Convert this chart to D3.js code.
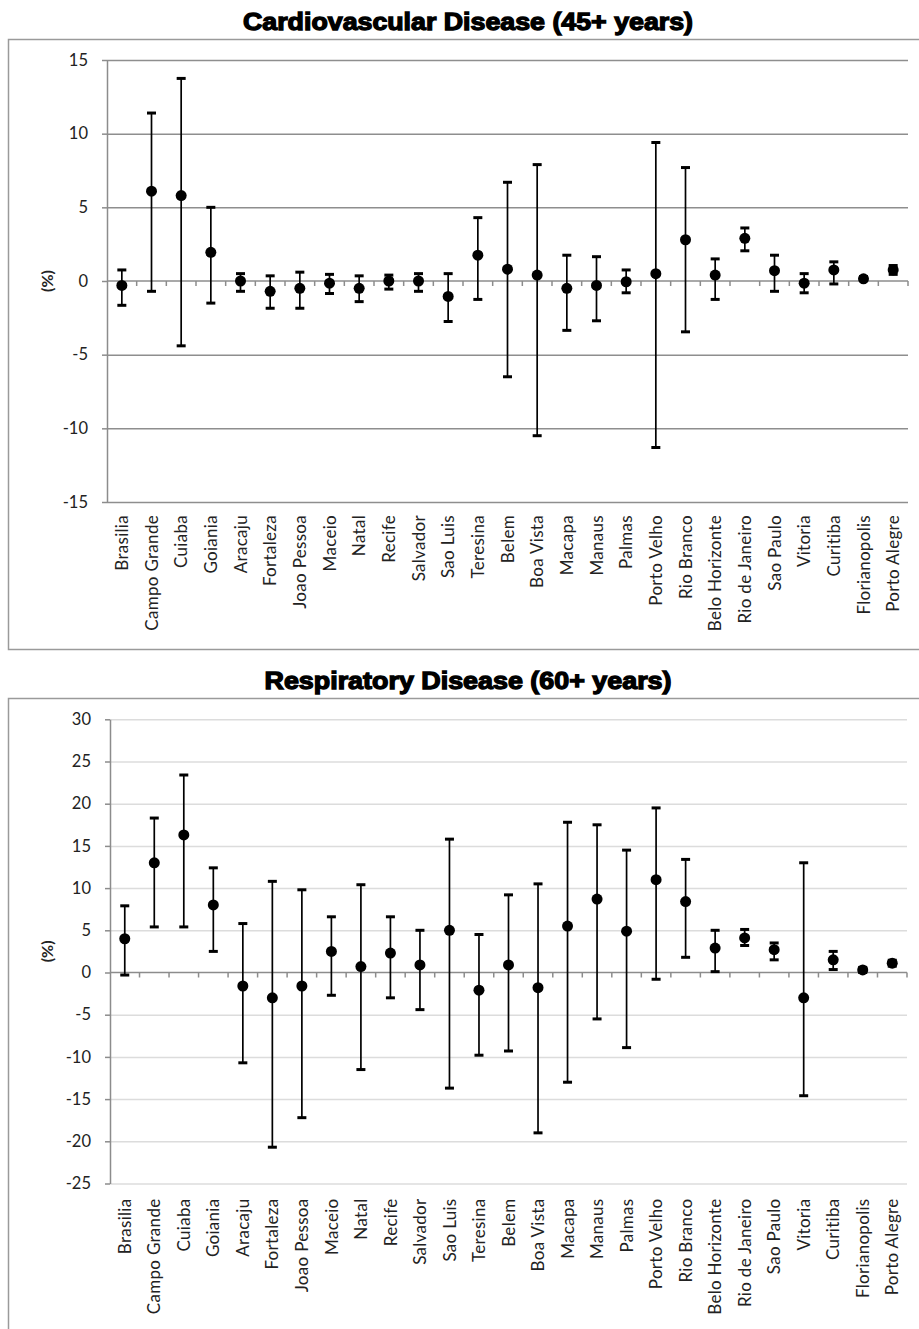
<!DOCTYPE html>
<html>
<head>
<meta charset="utf-8">
<script src="https://cdn.jsdelivr.net/npm/d3@7"></script>
<style>
  html, body { margin: 0; padding: 0; background: #fff; }
  svg { display: block; }
</style>
</head>
<body>
<div id="chart"></div>
<script>
const cities = ["Brasilia", "Campo Grande", "Cuiaba", "Goiania", "Aracaju", "Fortaleza", "Joao Pessoa",
    "Maceio", "Natal", "Recife", "Salvador", "Sao Luis", "Teresina", "Belem", "Boa Vista", "Macapa",
    "Manaus", "Palmas", "Porto Velho", "Rio Branco", "Belo Horizonte", "Rio de Janeiro", "Sao Paulo",
    "Vitoria", "Curitiba", "Florianopolis", "Porto Alegre"];

// Cardiovascular disease (45+ years)
const cvdMean = [-0.3, 6.1, 5.8, 1.95, 0, -0.7, -0.5, -0.15, -0.5, 0, 0, -1.05, 1.75, 0.8, 0.4, -0.5,
    -0.3, -0.05, 0.5, 2.8, 0.4, 2.9, 0.7, -0.15, 0.75, 0.15, 0.75];
const cvdLow = [-1.65, -0.7, -4.4, -1.5, -0.7, -1.85, -1.85, -0.85, -1.4, -0.55, -0.7, -2.75, -1.25, -6.5,
    -10.5, -3.35, -2.7, -0.8, -11.3, -3.45, -1.25, 2.05, -0.7, -0.8, -0.2, 0.05, 0.45];
const cvdHigh = [0.75, 11.4, 13.75, 5.0, 0.5, 0.35, 0.6, 0.45, 0.35, 0.4, 0.5, 0.5, 4.3, 6.7, 7.9, 1.75,
    1.65, 0.75, 9.4, 7.7, 1.5, 3.6, 1.75, 0.5, 1.3, 0.3, 1.05];
const cvdTicks = [-15, -10, -5, 0, 5, 10, 15];

// Respiratory disease (60+ years)
const respMean = [4.0, 13.0, 16.3, 8.0, -1.6, -3.0, -1.6, 2.5, 0.7, 2.3, 0.9, 5.0, -2.1, 0.9, -1.8, 5.5,
    8.7, 4.9, 11.0, 8.4, 2.9, 4.1, 2.7, -3.0, 1.5, 0.3, 1.1];
const respLow = [-0.3, 5.4, 5.4, 2.5, -10.7, -20.7, -17.2, -2.7, -11.5, -3.0, -4.4, -13.7, -9.8, -9.3,
    -19.0, -13.0, -5.5, -8.9, -0.8, 1.8, 0.1, 3.2, 1.5, -14.6, 0.35, 0.0, 0.75];
const respHigh = [7.9, 18.3, 23.4, 12.4, 5.8, 10.8, 9.8, 6.6, 10.4, 6.6, 5.0, 15.8, 4.5, 9.2, 10.5, 17.8,
    17.5, 14.5, 19.5, 13.4, 5.0, 5.1, 3.5, 13.0, 2.5, 0.6, 1.45];
const respTicks = [-25, -20, -15, -10, -5, 0, 5, 10, 15, 20, 25, 30];

const width = 919;
const height = 1329;
const labelFont = "Lato, 'Open Sans', sans-serif";

const svg = d3.select("#chart").append("svg")
    .attr("width", width)
    .attr("height", height)
    .attr("viewBox", `0 0 ${width} ${height}`);

function createErrorChart(cfg) {
    const rows = cities.map((c, i) => ({ city: c, mean: cfg.mean[i], low: cfg.low[i], high: cfg.high[i] }));

    // outer frame
    svg.append("rect")
        .attr("x", 8.5)
        .attr("y", cfg.frameTop + 0.5)
        .attr("width", 930)
        .attr("height", cfg.frameBottom - cfg.frameTop)
        .attr("fill", "none")
        .attr("stroke", "#9a9a9a")
        .attr("stroke-width", 1.5);

    svg.append("text")
        .attr("x", cfg.titleX)
        .attr("y", cfg.titleY)
        .attr("text-anchor", "middle")
        .attr("textLength", cfg.titleWidth)
        .attr("lengthAdjust", "spacingAndGlyphs")
        .style("font-family", "'Liberation Sans', Arial, sans-serif")
        .style("font-size", "24px")
        .style("font-weight", "900")
        .style("fill", "#000")
        .style("stroke", "#000")
        .style("stroke-width", "1.3px")
        .text(cfg.title);

    const x = d3.scaleBand()
        .domain(cities)
        .range([cfg.left, cfg.right])
        .padding(0);

    const y = d3.scaleLinear()
        .domain(d3.extent(cfg.ticks))
        .range([cfg.bottom, cfg.top]);

    // horizontal gridlines
    svg.append("g")
        .attr("class", "y-grid")
        .attr("transform", `translate(${cfg.left}, 0)`)
        .call(d3.axisLeft(y).tickValues(cfg.ticks.filter(t => t !== 0)).tickSize(-(cfg.right - cfg.left)).tickFormat(""))
        .call(g => g.select(".domain").remove())
        .call(g => g.selectAll(".tick line")
            .attr("stroke", cfg.gridColor)
            .attr("stroke-width", 1.5));

    // y axis with outside ticks
    svg.append("g")
        .attr("class", "y-axis")
        .attr("transform", `translate(${cfg.left}, 0)`)
        .call(d3.axisLeft(y).tickValues(cfg.ticks).tickSize(5).tickPadding(14).tickSizeOuter(0)
            .tickFormat(d => String(d)))
        .call(g => g.select(".domain").attr("stroke", "#8c8c8c").attr("stroke-width", 1.5))
        .call(g => g.selectAll(".tick line").attr("stroke", "#8c8c8c").attr("stroke-width", 1.5))
        .call(g => g.selectAll(".tick text")
            .style("font-family", labelFont)
            .style("font-size", "16.5px")
            .style("fill", "#222"));

    // zero axis line with category tick marks
    const zeroAxis = svg.append("g")
        .attr("class", "x-axis")
        .attr("transform", `translate(0, ${y(0)})`);

    zeroAxis.append("line")
        .attr("x1", cfg.left)
        .attr("x2", cfg.right)
        .attr("stroke", "#8c8c8c")
        .attr("stroke-width", 1.5);

    zeroAxis.selectAll(".cat-tick")
        .data(cities.slice(1).concat(["__end"]))
        .join("line")
        .attr("class", "cat-tick")
        .attr("x1", d => d === "__end" ? cfg.right : x(d))
        .attr("x2", d => d === "__end" ? cfg.right : x(d))
        .attr("y1", 0)
        .attr("y2", 5)
        .attr("stroke", "#8c8c8c")
        .attr("stroke-width", 1.5);

    // category labels at the bottom of the plot
    svg.append("g")
        .attr("class", "cat-labels")
        .selectAll("text")
        .data(cities)
        .join("text")
        .attr("transform", d => `translate(${x(d) + x.bandwidth() / 2}, ${cfg.bottom + cfg.labelGap}) rotate(-90)`)
        .attr("text-anchor", "end")
        .attr("dy", "0.36em")
        .style("font-family", labelFont)
        .style("font-size", "17px")
        .style("letter-spacing", "0.3px")
        .style("fill", "#222")
        .text(d => d);

    // axis title
    svg.append("text")
        .attr("transform", `translate(47, ${(cfg.top + cfg.bottom) / 2}) rotate(-90)`)
        .attr("text-anchor", "middle")
        .attr("dy", "0.36em")
        .style("font-family", labelFont)
        .style("font-size", "16px")
        .style("font-weight", "bold")
        .style("fill", "#222")
        .text("(%)");

    const marks = svg.append("g").attr("class", "marks")
        .selectAll("g")
        .data(rows)
        .join("g")
        .attr("transform", d => `translate(${x(d.city) + x.bandwidth() / 2}, 0)`);

    marks.append("line")
        .attr("y1", d => y(d.low))
        .attr("y2", d => y(d.high))
        .attr("stroke", "#000")
        .attr("stroke-width", 1.7);

    marks.selectAll(".cap")
        .data(d => [d.low, d.high])
        .join("line")
        .attr("class", "cap")
        .attr("x1", -4.5)
        .attr("x2", 4.5)
        .attr("y1", d => y(d))
        .attr("y2", d => y(d))
        .attr("stroke", "#000")
        .attr("stroke-width", 3);

    marks.append("circle")
        .attr("cy", d => y(d.mean))
        .attr("r", 5.5)
        .attr("fill", "#000");
}

createErrorChart({
    title: "Cardiovascular Disease (45+ years)",
    titleX: 468, titleY: 30, titleWidth: 450,
    frameTop: 39, frameBottom: 649,
    left: 107, right: 908, top: 60, bottom: 502,
    labelGap: 13,
    ticks: cvdTicks,
    mean: cvdMean, low: cvdLow, high: cvdHigh,
    gridColor: "#8e8e8e"
});

createErrorChart({
    title: "Respiratory Disease (60+ years)",
    titleX: 468, titleY: 689, titleWidth: 407,
    frameTop: 698, frameBottom: 1345,
    left: 110, right: 907, top: 719.3, bottom: 1183.5,
    labelGap: 15,
    ticks: respTicks,
    mean: respMean, low: respLow, high: respHigh,
    gridColor: "#dcdcdc"
});
</script>
</body>
</html>
